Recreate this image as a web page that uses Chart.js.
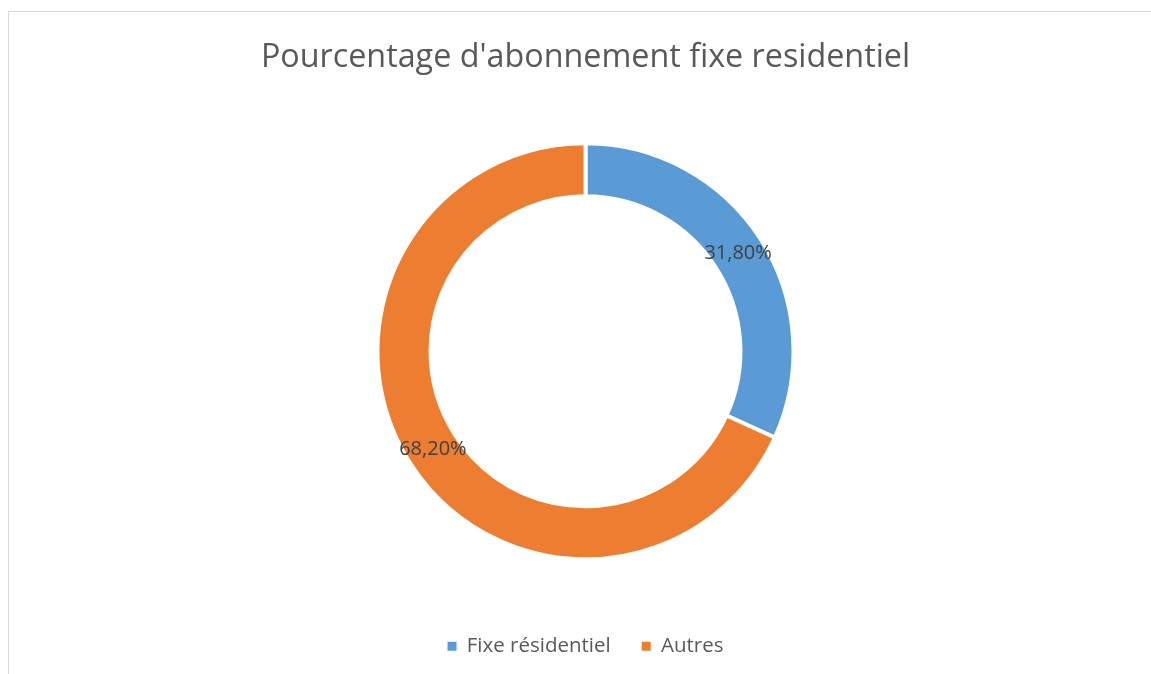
<!DOCTYPE html>
<html>
<head>
<meta charset="utf-8">
<script src="https://cdn.jsdelivr.net/npm/chart.js@4.4.0/dist/chart.umd.min.js"></script>
<style>
  html, body { margin: 0; padding: 0; background: #fff; }
  #wrap { position: relative; width: 1151px; height: 674px; overflow: hidden; }
  #frame { position: absolute; left: 8px; top: 11px; width: 1200px; height: 700px; border: 1px solid #d9d9d9; }
  #box { position: absolute; left: 0; top: 0; width: 1151px; height: 674px; }
</style>
</head>
<body>
<div id="wrap">
  <div id="frame"></div>
  <div id="box"><canvas id="pieChart"></canvas></div>
</div>
<script>
const labels = ['Fixe résidentiel', 'Autres'];
const values = [31.8, 68.2];
const valueLabels = ['31,80%', '68,20%'];
const colors = ['#5B9BD5', '#ED7D31'];

const ctx = document.getElementById('pieChart').getContext('2d');

// draws the percentage labels on the middle of each arc
const sliceLabels = {
  id: 'sliceLabels',
  afterDatasetsDraw(chart) {
    const c = chart.ctx;
    const meta = chart.getDatasetMeta(0);
    c.save();
    c.font = '20px "Open Sans"';
    c.fillStyle = '#404040';
    c.textAlign = 'center';
    c.textBaseline = 'middle';
    meta.data.forEach((arc, i) => {
      const pos = arc.tooltipPosition();
      c.fillText(valueLabels[i], pos.x, pos.y);
    });
    c.restore();
  }
};

new Chart(ctx, {
  type: 'doughnut',
  data: {
    labels: labels,
    datasets: [
      {
        data: values,
        backgroundColor: colors,
        borderColor: '#ffffff',
        borderWidth: 4,
        hoverOffset: 0,
      },
    ],
  },
  options: {
    responsive: true,
    maintainAspectRatio: false,
    animation: false,
    cutout: '74.5%',
    radius: 208,
    layout: {
      padding: { top: 0, bottom: 7.5, left: 20 },
    },
    plugins: {
      title: {
        display: true,
        text: "Pourcentage d'abonnement fixe residentiel",
        color: '#595959',
        font: { family: 'Open Sans', size: 32.3, weight: 'normal', lineHeight: 1.2 },
        padding: { top: 38, bottom: 20.9 },
      },
      legend: {
        position: 'bottom',
        labels: {
          color: '#595959',
          font: { family: 'Open Sans', size: 20.5 },
          boxWidth: 9,
          boxHeight: 9,
          padding: 31,
          generateLabels(chart) {
            const items = Chart.overrides.doughnut.plugins.legend.labels.generateLabels(chart);
            // no white outline on the legend squares
            items.forEach((item) => { item.lineWidth = 0; });
            return items;
          },
        },
      },
      tooltip: { enabled: false },
    },
  },
  plugins: [sliceLabels],
});
</script>
</body>
</html>
